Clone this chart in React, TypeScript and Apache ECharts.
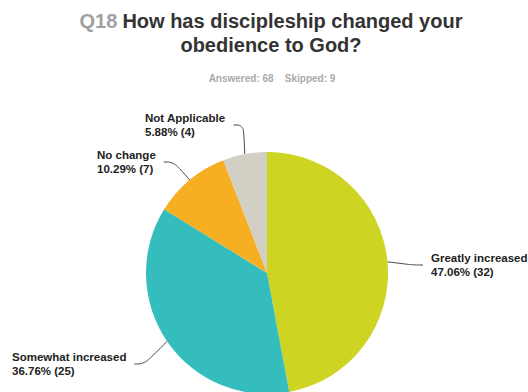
import React, { useEffect, useRef } from "react";
import * as echarts from "echarts";

const categories = ["Greatly increased", "Somewhat increased", "No change", "Not Applicable"];
const counts = [32, 25, 7, 4];
const answered = 68;
const skipped = 9;
const colors = ["#cdd422", "#35bdbd", "#f6ae23", "#d2d0c4"];
const labelPos: [number, number][] = [
  [431, 251],
  [12, 350],
  [97, 148],
  [145, 111],
];
const labelOnRight = [true, false, false, false];

export default function App() {
  const ref = useRef<HTMLDivElement>(null);
  useEffect(() => {
    const chart = echarts.init(ref.current!, null, { renderer: "svg" });
    const total = counts.reduce((a, b) => a + b, 0);
    const pad = 8;
    chart.setOption({
      animation: false,
      backgroundColor: "#ffffff",
      title: [
        {
          text: "{q|Q18} {b|How has discipleship changed your}\n{b|obedience to God?}",
          left: 266,
          textAlign: "center",
          top: 4,
          textStyle: {
            rich: {
              q: { fontSize: 20, fontWeight: "bold", color: "#a0a0a0", fontFamily: "Liberation Sans", lineHeight: 24 },
              b: { fontSize: 20, fontWeight: "bold", color: "#333333", fontFamily: "Liberation Sans", lineHeight: 24 },
            },
          },
        },
        {
          text: `Answered: ${answered}    Skipped: ${skipped}`,
          left: 267,
          textAlign: "center",
          top: 68,
          textStyle: { fontSize: 10, fontWeight: "bold", color: "#aaaaaa", fontFamily: "Liberation Sans" },
        },
      ],
      series: [
        {
          type: "pie",
          center: [267, 273],
          radius: 121,
          startAngle: 90,
          clockwise: true,
          data: categories.map((n, i) => ({
            name: n,
            value: counts[i],
            itemStyle: { color: colors[i] },
            label: { padding: labelOnRight[i] ? [0, 0, 0, pad] : [0, pad, 0, 0] },
          })),
          label: {
            show: true,
            formatter: (p: any) => `${p.name}\n${((p.value / total) * 100).toFixed(2)}% (${p.value})`,
            fontFamily: "Liberation Sans",
            fontSize: 11.5,
            fontWeight: "bold",
            color: "#222222",
            lineHeight: 14,
            align: "left",
            overflow: "none",
          },
          labelLine: {
            show: true,
            smooth: 0.4,
            length: 10,
            length2: 10,
            lineStyle: { color: "#444444", width: 1 },
          },
          labelLayout: (params: any) => {
            const i = params.dataIndex;
            const p = labelPos[i];
            return { x: labelOnRight[i] ? p[0] - pad : p[0], y: p[1], align: "left", verticalAlign: "top" };
          },
          emphasis: { disabled: true },
        },
      ],
    });
    return () => chart.dispose();
  }, []);
  return <div ref={ref} style={{ width: 528, height: 392, position: "absolute", left: 0, top: 0 }} />;
}
